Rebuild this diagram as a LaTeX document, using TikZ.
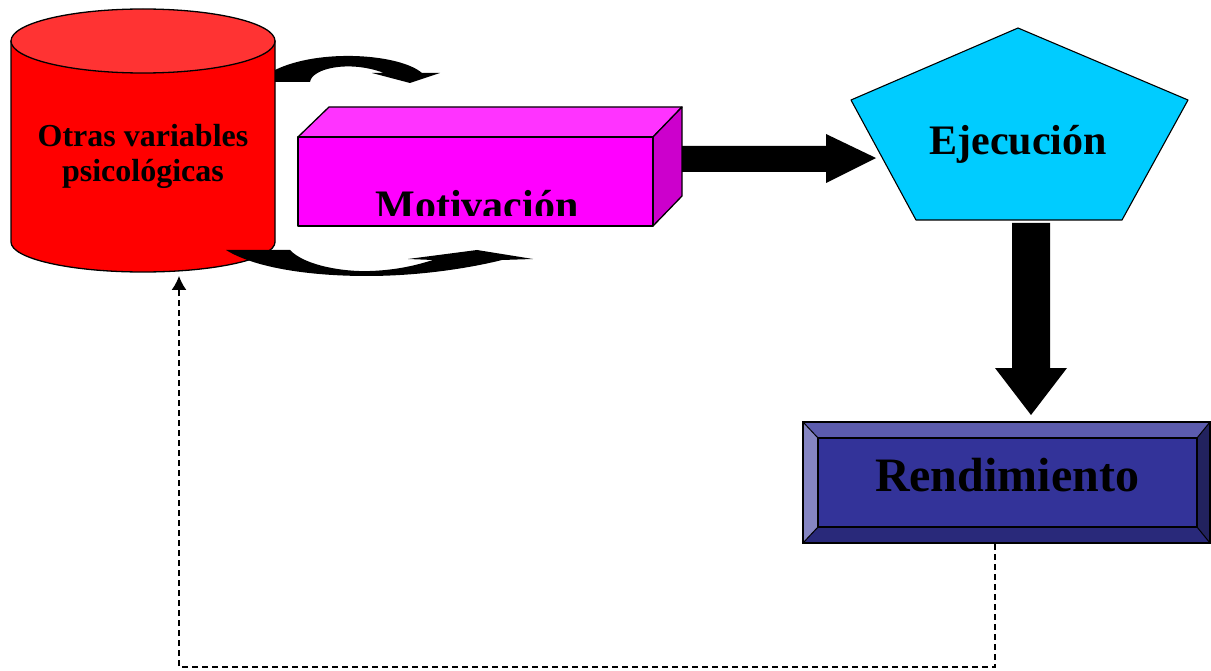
\documentclass[tikz,border=0pt]{standalone}
\usepackage{fontspec}
\setmainfont{Liberation Serif}
\definecolor{cylred}{HTML}{FF0000}
\definecolor{cyltop}{HTML}{FF3333}
\definecolor{mag}{HTML}{FF00FF}
\definecolor{magtop}{HTML}{FF33FF}
\definecolor{magside}{HTML}{CC00CC}
\definecolor{cyanp}{HTML}{00CCFF}
\definecolor{rend}{HTML}{333399}
\definecolor{rendtop}{HTML}{5C5CAD}
\definecolor{rendleft}{HTML}{8585C2}
\definecolor{rendright}{HTML}{22225E}
\definecolor{rendbot}{HTML}{29297A}
\tikzset{
  outline/.style={draw=black, line width=1.3pt, line join=round},
  blockarrow/.style={fill=black},
  lbl/.style={font=\bfseries, text=black, inner sep=0pt, anchor=base},
  feedback/.style={draw=black, line width=1.5pt, dash pattern=on 6pt off 4pt, -{Latex[length=14pt,width=15pt]}}
}
\usetikzlibrary{arrows.meta}
\begin{document}
\begin{tikzpicture}[x=1pt,y=-1pt]
\useasboundingbox (0,0) rectangle (1211,671);
% ---------- cylinder
\draw[outline, fill=cylred] (11,41) -- (11,242) arc[start angle=180, end angle=360, x radius=132pt, y radius=30pt] -- (275,41) -- cycle;
\draw[outline, fill=cyltop] (143,41) ellipse [x radius=132pt, y radius=32pt];
\coordinate (cyl) at (143,142);
\node[lbl, font=\bfseries\fontsize{32}{35}\selectfont] (otras1) at (143,147) {Otras variables};
\node[lbl, font=\bfseries\fontsize{32}{35}\selectfont] (otras2) at (143,182) {psicológicas};
% ---------- curved arrows
\fill[blockarrow] (275,82) -- (310,82) .. controls (312,68) and (350,60) .. (384,73)
  -- (372,73) -- (410,83) -- (440,73) -- (422,73)
  .. controls (400,54) and (320,48) .. (275,70) -- cycle;
\fill[blockarrow] (226,250) -- (290,250) .. controls (305,266) and (345,272) .. (370,271)
  .. controls (400,270) and (420,264) .. (433,260) -- (408,259) -- (477,250) -- (533,259) -- (502,260)
  .. controls (470,268) and (420,276) .. (367,276) .. controls (310,276) and (255,268) .. (226,250) -- cycle;
% ---------- Motivacion box
\draw[outline, fill=magtop] (298,137) -- (329,107) -- (682,107) -- (653,137) -- cycle;
\draw[outline, fill=magside] (653,137) -- (682,107) -- (682,196) -- (653,226) -- cycle;
\draw[outline, fill=mag] (298,137) rectangle (653,226);
\coordinate (mot) at (475,181);
\begin{scope}
\clip (298,137) rectangle (653,216);
\node[lbl, font=\bfseries\fontsize{42}{46}\selectfont] (motiv) at (477,220) {Motivación};
\end{scope}
% ---------- arrow Motivacion -> Ejecucion
\fill[blockarrow] (682,146) -- (826,146) -- (826,134) -- (876,158) -- (826,183) -- (826,172) -- (682,172) -- cycle;
% ---------- pentagon
\draw[outline, line width=1.1pt, fill=cyanp] (1018,28) -- (1188,100) -- (1122,220) -- (916,220) -- (851,100) -- cycle;
\node[lbl, font=\bfseries\fontsize{42}{46}\selectfont] (ejec) at (1018,155) {Ejecución};
% ---------- arrow Ejecucion -> Rendimiento
\fill[blockarrow] (1012,223) -- (1050,223) -- (1050,368) -- (1067,368) -- (1031,415) -- (995,368) -- (1012,368) -- cycle;
% ---------- Rendimiento bevel box
\fill[rendtop] (803,422) -- (1210,422) -- (1197,438) -- (818,438) -- cycle;
\fill[rendleft] (803,422) -- (818,438) -- (818,527) -- (803,543) -- cycle;
\fill[rendright] (1210,422) -- (1197,438) -- (1197,527) -- (1210,543) -- cycle;
\fill[rendbot] (803,543) -- (818,527) -- (1197,527) -- (1210,543) -- cycle;
\fill[rend] (818,438) rectangle (1197,527);
\draw[black, line width=1pt] (803,422) -- (818,438) (1210,422) -- (1197,438) (803,543) -- (818,527) (1210,543) -- (1197,527);
\draw[black, line width=1.2pt] (818,438) rectangle (1197,527);
\draw[black, line width=1.3pt] (803,422) rectangle (1210,543);
\node[lbl, font=\bfseries\fontsize{48}{52}\selectfont] (rendi) at (1007,491) {Rendimiento};
% ---------- feedback dashed line
\coordinate (fbstart) at (995,544);
\coordinate (fbc1) at (995,667);
\coordinate (fbc2) at (179,667);
\coordinate (fbend) at (179,276);
\draw[feedback] (fbstart) -- (fbc1) -- (fbc2) -- (fbend);
\end{tikzpicture}
\end{document}
